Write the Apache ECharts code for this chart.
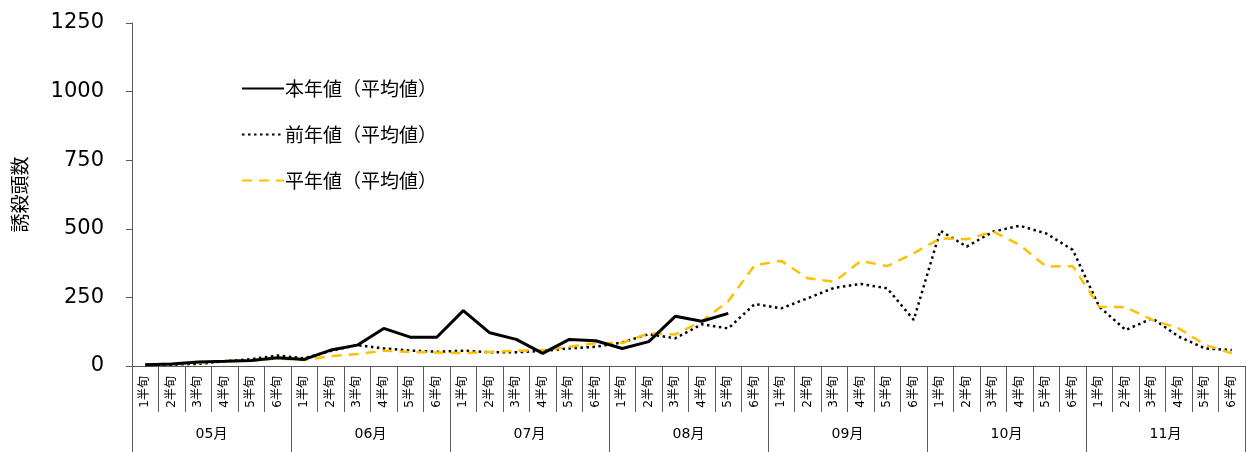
<!DOCTYPE html>
<html>
<head>
<meta charset="utf-8">
<script src="https://cdn.jsdelivr.net/npm/echarts@6/dist/echarts.min.js"></script>
<style>
html,body{margin:0;padding:0;background:#fff;}
#chart{width:1247px;height:452px;}
</style>
</head>
<body>
<div id="chart"></div>
<script>
const halfLabels = ["1半旬","2半旬","3半旬","4半旬","5半旬","6半旬"];
const months = ["05月","06月","07月","08月","09月","10月","11月"];
const yTicks = [0, 250, 500, 750, 1000, 1250];
const seriesNames = ["本年値（平均値）","前年値（平均値）","平年値（平均値）"];

const thisYear = [5, 7, 15, 17, 20, 30, 24, 58, 76, 137, 105, 105, 202, 121, 97, 46, 97, 92, 64, 89, 181, 163, 192];
const prevYear = [5, 5, 8, 17, 25, 38, 28, 55, 76, 64, 56, 52, 56, 50, 50, 55, 64, 70, 86, 116, 101, 152, 137, 226, 210, 247, 285, 299, 283, 168, 493, 435, 490, 511, 483, 423, 216, 131, 174, 107, 64, 58];
const normalYear = [5, 8, 12, 17, 20, 27, 22, 36, 44, 56, 51, 49, 47, 51, 55, 58, 70, 83, 84, 119, 115, 163, 236, 368, 383, 320, 307, 383, 364, 411, 465, 462, 490, 441, 362, 364, 216, 214, 168, 137, 77, 46];

const categories = [];
months.forEach(() => halfLabels.forEach(h => categories.push(h)));

const FONT = "'DejaVu Sans','Noto Sans CJK JP',sans-serif";
const CJK = "'Noto Sans CJK JP',sans-serif";
const chart = echarts.init(document.getElementById('chart'));
chart.setOption({
  animation: false,
  backgroundColor: '#fff',
  textStyle: { fontFamily: FONT },
  grid: { left: 132, right: 2, top: 23, bottom: 86, containLabel: false },
  legend: {
    orient: 'vertical',
    left: 236, top: 74,
    itemWidth: 42, itemHeight: 14, itemGap: 27,
    itemStyle: { opacity: 0 },
    textStyle: { fontSize: 19, color: '#000', fontFamily: CJK, padding: [0,0,0,-4] },
    data: seriesNames
  },
  xAxis: [
    {
      type: 'category', data: categories, position: 'bottom',
      axisLine: { show: true, lineStyle: { color: '#595959', width: 1 } },
      axisTick: { show: true, interval: 0, length: 46, lineStyle: { color: '#595959' } },
      axisLabel: { interval: 0, rotate: 90, margin: 10, fontSize: 12, color: '#000', fontFamily: FONT },
      splitLine: { show: false }
    },
    {
      type: 'category', data: months, position: 'bottom',
      axisLine: { show: false },
      axisTick: { show: true, interval: 0, length: 86, lineStyle: { color: '#595959' } },
      axisLabel: { interval: 0, margin: 61, fontSize: 14, color: '#000', fontFamily: FONT },
      splitLine: { show: false }
    }
  ],
  yAxis: {
    type: 'value', min: yTicks[0], max: yTicks[yTicks.length-1], interval: 250,
    name: '誘殺頭数', nameLocation: 'middle', nameGap: 103, nameRotate: 90,
    nameTextStyle: { fontSize: 19, color: '#000', fontFamily: CJK },
    axisLine: { show: true, lineStyle: { color: '#595959' } },
    axisTick: { show: true, length: 6, lineStyle: { color: '#595959' } },
    axisLabel: { fontSize: 21, color: '#000', margin: 28, fontFamily: FONT, formatter: v => String(v) },
    splitLine: { show: false }
  },
  series: [
    { name: seriesNames[0], type: 'line', data: thisYear, symbol: 'none', xAxisIndex: 0,
      lineStyle: { color: '#000', width: 3, type: 'solid' }, itemStyle: { color: '#000' }, z: 5 },
    { name: seriesNames[1], type: 'line', data: prevYear, symbol: 'none', xAxisIndex: 0,
      lineStyle: { color: '#000', width: 2.5, type: [2.5, 3.5] }, itemStyle: { color: '#000' }, z: 3 },
    { name: seriesNames[2], type: 'line', data: normalYear, symbol: 'none', xAxisIndex: 0,
      lineStyle: { color: '#FFC000', width: 2.5, type: [10, 7] }, itemStyle: { color: '#FFC000' }, z: 4 }
  ]
});
</script>
</body>
</html>
